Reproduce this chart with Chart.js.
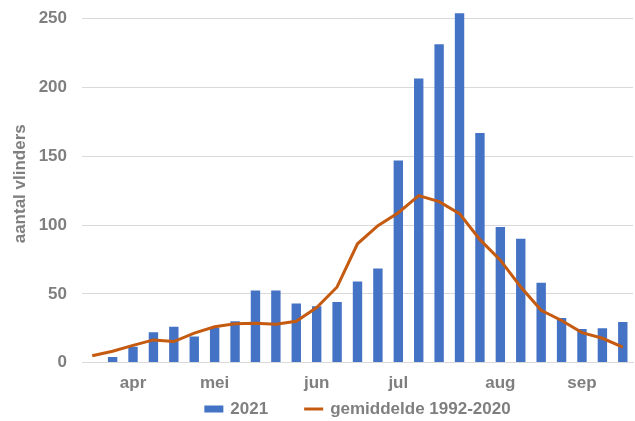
<!DOCTYPE html>
<html>
<head>
<meta charset="utf-8">
<script src="https://cdn.jsdelivr.net/npm/chart.js@4.4.1/dist/chart.umd.min.js"></script>
<style>
    html, body { margin: 0; padding: 0; background: #ffffff; }
    #wrap { width: 635px; height: 421px; position: relative; }
</style>
</head>
<body>
<div id="wrap"><canvas id="vlinderChart"></canvas></div>
<script>
// weeks from end of March to end of September
const weekLabels = ['', '', 'apr', '', '', '', 'mei', '', '', '', '', 'jun', '', '', '',
    'jul', '', '', '', '', 'aug', '', '', '', 'sep', '', ''];

const counts2021 = [null, 4, 11.5, 22, 26, 19, 25.5, 30, 52.5, 52.5, 43, 41, 44, 59, 68.5,
    147, 206.5, 231.5, 254, 167, 98.5, 90, 58, 32.5, 24.5, 25, 29.5];

const average19922020 = [5, 8.3, 12.5, 16.5, 15.3, 21.4, 26, 28.2, 28.6, 27.9, 30, 40, 55, 86.4, 99.5,
    109, 121.4, 117, 108.3, 89.4, 74.5, 55, 38, 30.6, 21.8, 17.7, 11.2];

const yTicks = [0, 50, 100, 150, 200, 250];

const textColor = '#7f7f7f';
const gridColor = '#d9d9d9';
const fontFamily = '"Liberation Sans", Arial, sans-serif';

// Simple legend under the plot, centred on the chart area
const bottomLegend = {
    id: 'bottomLegend',
    afterDraw(chart) {
        const ctx = chart.ctx;
        const area = chart.chartArea;
        const sets = chart.data.datasets;
        ctx.save();
        ctx.font = 'bold 17px ' + fontFamily;
        ctx.textBaseline = 'middle';

        const swatch = 19;
        const gap = 7;
        const itemGap = 36;
        let total = 0;
        sets.forEach((ds, i) => {
            total += swatch + gap + ctx.measureText(ds.label).width;
            if (i < sets.length - 1) total += itemGap;
        });

        let x = (area.left + area.right) / 2 - total / 2;
        const y = chart.height - 12;
        sets.forEach(ds => {
            if (ds.type === 'line') {
                ctx.strokeStyle = ds.borderColor;
                ctx.lineWidth = 3;
                ctx.beginPath();
                ctx.moveTo(x, y);
                ctx.lineTo(x + swatch, y);
                ctx.stroke();
            } else {
                ctx.fillStyle = ds.backgroundColor;
                ctx.fillRect(x, y - 3.5, swatch, 7);
            }
            x += swatch + gap;
            ctx.fillStyle = textColor;
            ctx.fillText(ds.label, x, y);
            x += ctx.measureText(ds.label).width + itemGap;
        });
        ctx.restore();
    }
};

document.addEventListener('DOMContentLoaded', function () {
    const ctx = document.getElementById('vlinderChart').getContext('2d');

    new Chart(ctx, {
        data: {
            labels: weekLabels,
            datasets: [
                {
                    type: 'bar',
                    label: '2021',
                    data: counts2021,
                    backgroundColor: '#4472c4',
                    barPercentage: 0.46,
                    categoryPercentage: 1,
                    order: 1
                },
                {
                    type: 'line',
                    label: 'gemiddelde 1992-2020',
                    data: average19922020,
                    borderColor: '#c55a11',
                    backgroundColor: '#c55a11',
                    borderWidth: 3,
                    pointRadius: 0,
                    tension: 0,
                    order: 0
                }
            ]
        },
        options: {
            responsive: true,
            maintainAspectRatio: false,
            animation: false,
            layout: {
                padding: { left: 6, right: 2, top: 5, bottom: 16 }
            },
            plugins: {
                legend: { display: false },
                tooltip: { enabled: false }
            },
            scales: {
                x: {
                    grid: { display: false, drawTicks: false },
                    border: { display: true, color: gridColor },
                    ticks: {
                        autoSkip: false,
                        maxRotation: 0,
                        padding: 11,
                        color: textColor,
                        font: { family: fontFamily, size: 17, weight: 'bold' }
                    }
                },
                y: {
                    min: 0,
                    max: 260,
                    afterBuildTicks: function (scale) {
                        scale.ticks = yTicks.map(v => ({ value: v }));
                    },
                    afterFit: function (scale) {
                        scale.width = 76;
                        // top label sits below the axis max, no extra room needed
                        scale.paddingTop = 0;
                    },
                    grid: { color: gridColor, drawTicks: false },
                    border: { display: false },
                    ticks: {
                        padding: 15,
                        color: textColor,
                        font: { family: fontFamily, size: 17, weight: 'bold' }
                    },
                    title: {
                        display: true,
                        text: 'aantal vlinders',
                        color: textColor,
                        padding: { top: 4, bottom: 0 },
                        font: { family: fontFamily, size: 17, weight: 'bold' }
                    }
                }
            }
        },
        plugins: [bottomLegend]
    });
});
</script>
</body>
</html>
